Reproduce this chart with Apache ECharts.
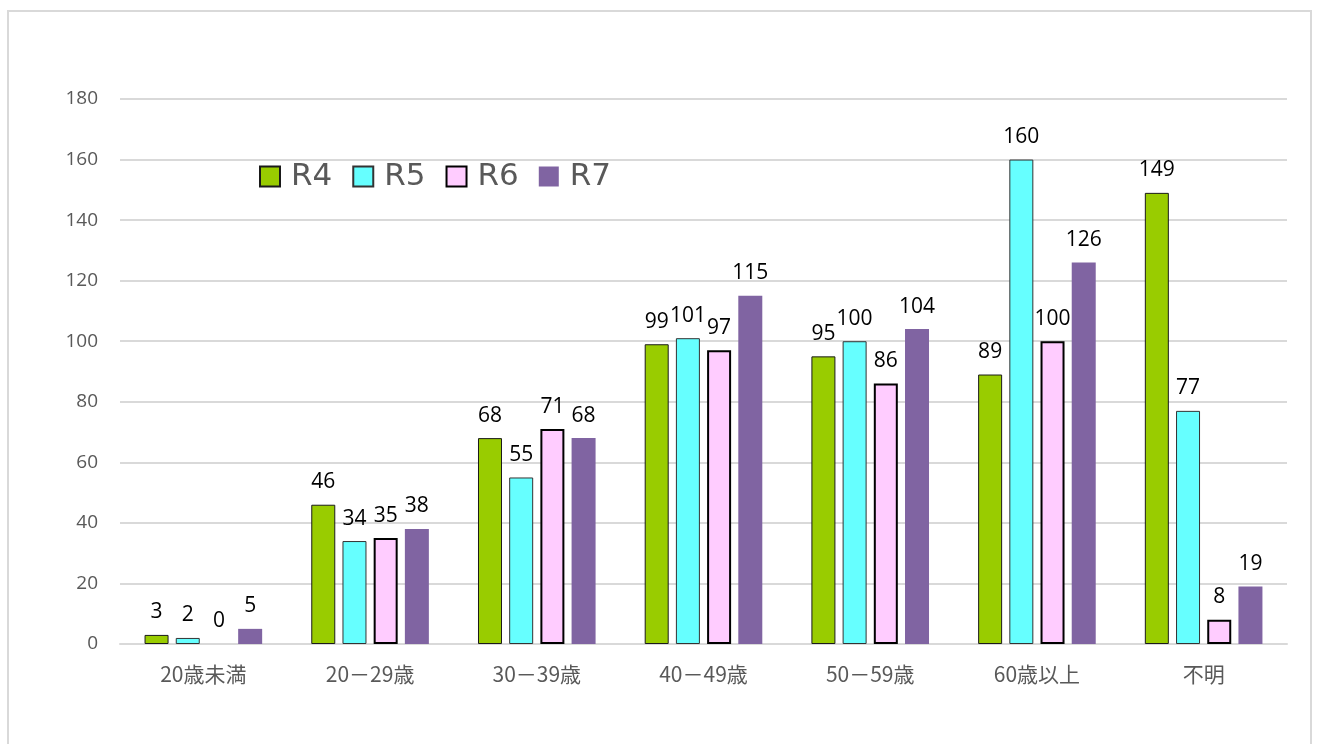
<!DOCTYPE html>
<html>
<head>
<meta charset="utf-8">
<script src="https://cdn.jsdelivr.net/npm/echarts@6/dist/echarts.min.js"></script>
<style>
  html, body { margin: 0; padding: 0; background: #fff; }
  #frame { position: absolute; left: 7px; top: 10px; width: 1305px; height: 740px; border: 2px solid #d9d9d9; box-sizing: border-box; }
  #main { width: 1318px; height: 744px; }
</style>
</head>
<body>
<div id="frame"></div>
<div id="main"></div>
<script>
var categories = ["20歳未満", "20－29歳", "30－39歳", "40－49歳", "50－59歳", "60歳以上", "不明"];
var r4 = [3, 46, 68, 99, 95, 89, 149];
var r5 = [2, 34, 55, 101, 100, 160, 77];
var r6 = [0, 35, 71, 97, 86, 100, 8];
var r7 = [5, 38, 68, 115, 104, 126, 19];
var yTicks = [0, 20, 40, 60, 80, 100, 120, 140, 160, 180];

var myChart = echarts.init(document.getElementById('main'));

function bar(name, data, color, border, bw) {
  return {
    name: name,
    type: 'bar',
    // zero-height bars draw no outline
    data: data.map(function (v) {
      return v === 0 ? { value: v, itemStyle: { borderWidth: 0 } } : v;
    }),
    barWidth: 24,
    barGap: '30%',
    itemStyle: { color: color, borderColor: border, borderWidth: bw },
    label: {
      show: true,
      position: 'top',
      distance: 12,
      color: '#000',
      fontSize: 21,
      fontFamily: 'Open Sans'
    }
  };
}

myChart.setOption({
  animation: false,
  grid: { left: 120, right: 31, top: 99, bottom: 100 },
  legend: {
    left: 254,
    top: 156,
    icon: 'rect',
    itemWidth: 20,
    itemHeight: 20,
    itemGap: 20,
    textStyle: { fontSize: 31, color: '#595959', fontFamily: 'DejaVu Sans', padding: [0, 0, 0, 6] },
    data: ['R4', 'R5', 'R6', 'R7']
  },
  xAxis: {
    type: 'category',
    data: categories,
    axisTick: { show: false },
    axisLine: { lineStyle: { color: '#d9d9d9', width: 2 } },
    axisLabel: { color: '#595959', fontSize: 21, margin: 20, fontFamily: 'Noto Sans CJK JP' }
  },
  yAxis: {
    type: 'value',
    min: yTicks[0],
    max: yTicks[yTicks.length - 1],
    interval: 20,
    axisLine: { show: false },
    axisTick: { show: false },
    splitLine: { lineStyle: { color: '#d9d9d9', width: 2 } },
    axisLabel: { color: '#595959', fontSize: 19, margin: 22, fontFamily: 'Open Sans' }
  },
  series: [
    bar('R4', r4, '#99cc00', '#1a1a1a', 1),
    bar('R5', r5, '#66ffff', '#333333', 1),
    bar('R6', r6, '#ffccff', '#000000', 2),
    bar('R7', r7, '#8064a2', '#8064a2', 0)
  ]
});
</script>
</body>
</html>
